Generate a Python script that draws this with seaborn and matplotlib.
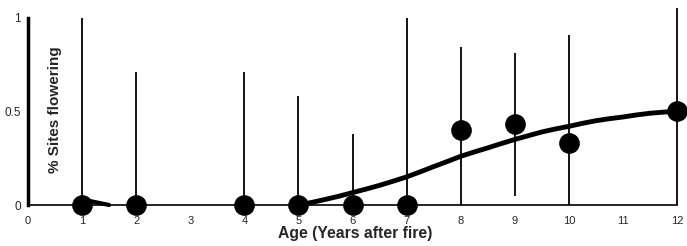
import matplotlib
matplotlib.use("Agg")
import matplotlib.pyplot as plt
import seaborn as sns
from matplotlib import font_manager

# ---- data ----
ages = [1, 2, 4, 5, 6, 7, 8, 9, 10, 12]
flowering = [0, 0, 0, 0, 0, 0, 0.40, 0.43, 0.33, 0.50]
err_low = [0, 0, 0, 0, 0, 0, 0, 0.05, 0, 0]
err_high = [1.0, 0.71, 0.71, 0.58, 0.38, 1.0, 0.845, 0.81, 0.91, 1.05]

fit_x = [5, 5.25, 5.5, 5.75, 6, 6.25, 6.5, 6.75, 7, 7.25, 7.5, 7.75, 8, 8.25, 8.5,
         8.75, 9, 9.25, 9.5, 9.75, 10, 10.25, 10.5, 10.75, 11, 11.25, 11.5, 11.75, 12]
fit_y = [0, 0.014, 0.03, 0.047, 0.066, 0.085, 0.105, 0.127, 0.15, 0.177, 0.205, 0.232,
         0.26, 0.283, 0.305, 0.328, 0.35, 0.37, 0.39, 0.406, 0.42, 0.436, 0.45, 0.461,
         0.47, 0.481, 0.49, 0.496, 0.50]
early_x = [1, 1.5]
early_y = [0.03, 0]

x_ticks = list(range(0, 13))
y_ticks = [0, 0.5, 1]
y_tick_labels = ["0", "0.5", "1"]

sns.set_style("white")
avail = {f.name for f in font_manager.fontManager.ttflist}
narrow = "Liberation Sans Narrow" if "Liberation Sans Narrow" in avail else "Liberation Sans"
plt.rcParams["font.family"] = ["Liberation Sans", "DejaVu Sans"]

fig = plt.figure(figsize=(6.87, 2.46), dpi=100)
ax = fig.add_axes([28 / 687, 41 / 246, 649 / 687, 196.6 / 246])

ax.vlines(ages, err_low, err_high, color="black", linewidth=1.3, zorder=2, clip_on=False)
sns.lineplot(x=fit_x, y=fit_y, ax=ax, color="black", linewidth=3.5, zorder=3,
             clip_on=False, solid_joinstyle="round", solid_capstyle="round")
sns.lineplot(x=early_x, y=early_y, ax=ax, color="black", linewidth=3.0, zorder=3, clip_on=False)
sns.scatterplot(x=ages, y=flowering, ax=ax, color="black", s=190, edgecolor="black",
                zorder=4, clip_on=False)

ax.set_xlim(0, 12)
ax.set_ylim(0, 1.05)
ax.set_xticks(x_ticks)
ax.set_xticklabels([str(t) for t in x_ticks], fontsize=8, family=[narrow, "DejaVu Sans"])
ax.set_yticks(y_ticks)
ax.set_yticklabels(y_tick_labels, fontsize=8.5)

for s in ["top", "right"]:
    ax.spines[s].set_visible(False)
ax.spines["left"].set_linewidth(2.5)
ax.spines["left"].set_bounds(0, 1)
ax.spines["bottom"].set_linewidth(1.2)
for s in ["left", "bottom"]:
    ax.spines[s].set_color("black")

ax.tick_params(axis="x", direction="out", length=4, width=1, color="black", pad=4)
ax.tick_params(axis="y", direction="out", length=3, width=1.5, color="black", pad=2)

ax.set_xlabel("")
ax.set_ylabel("")
ax.text(6.05, -0.15, "Age (Years after fire)", ha="center", va="center",
        fontsize=11.3, fontweight="bold")
ax.text(0.5, 0.51, "% Sites flowering", ha="center", va="center", rotation=90,
        fontsize=11, fontweight="bold")

fig.savefig("out.png", dpi=100)
